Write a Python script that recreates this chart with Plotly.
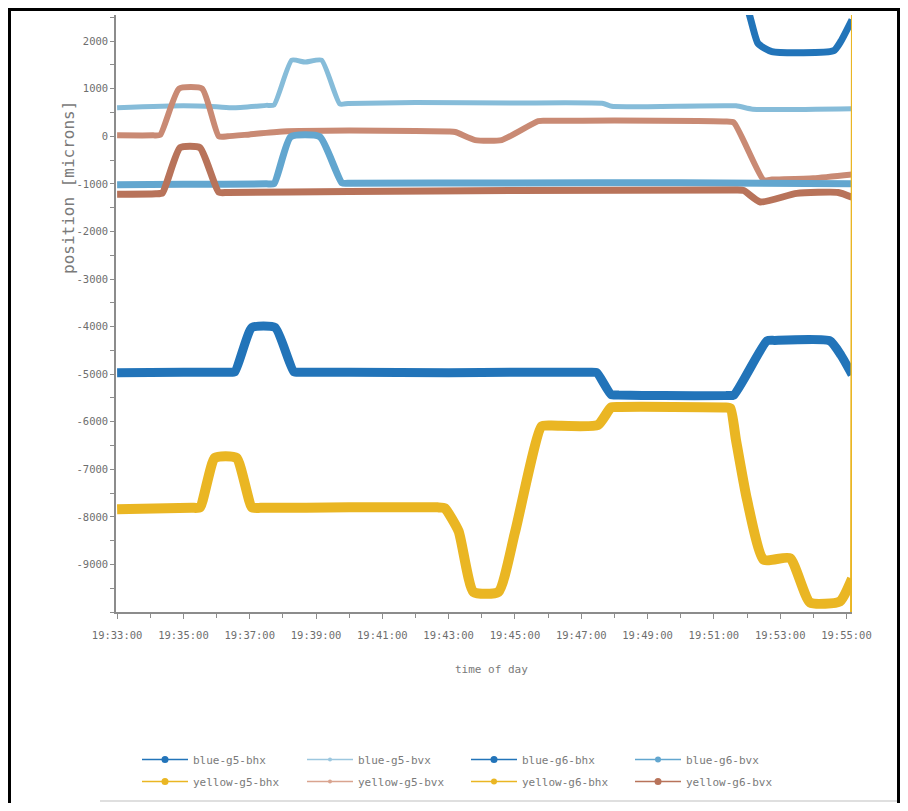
import plotly.graph_objects as go

DAY = "2000-01-01 "

# ---------------- data ----------------
t_b5h = ["19:33:00", "19:35:00", "19:36:20", "19:36:33", "19:37:04", "19:37:46", "19:38:20", "19:38:35",
         "19:40:00", "19:43:00", "19:45:00", "19:47:15", "19:47:28", "19:47:54", "19:48:08", "19:49:30",
         "19:51:22", "19:51:36", "19:52:36", "19:52:50", "19:54:30", "19:54:50", "19:55:10"]
v_b5h = [-4970, -4960, -4960, -4950, -4020, -4020, -4950, -4960,
         -4960, -4970, -4960, -4960, -4970, -5430, -5440, -5450,
         -5450, -5440, -4300, -4290, -4300, -4600, -5010]

t_b5v = ["19:33:00", "19:35:00", "19:36:00", "19:36:30", "19:37:30", "19:37:44", "19:38:16", "19:38:40",
         "19:39:10", "19:39:43", "19:39:58", "19:42:00", "19:45:00", "19:47:40", "19:47:55", "19:51:40",
         "19:52:10", "19:55:10"]
v_b5v = [600, 640, 620, 600, 650, 660, 1600, 1560,
         1600, 680, 690, 710, 700, 690, 630, 640,
         570, 580]

t_b6h = ["19:33:00", "19:51:40", "19:52:20", "19:52:45", "19:54:37", "19:54:50", "19:55:10"]
v_b6h = [3200, 3200, 1950, 1780, 1800, 2000, 2450]

t_b6v = ["19:33:00", "19:35:00", "19:37:30", "19:37:44", "19:38:14", "19:39:07", "19:39:47", "19:40:02",
         "19:45:00", "19:50:00", "19:55:10"]
v_b6v = [-1020, -1010, -1000, -995, -10, -10, -980, -985,
         -980, -975, -1000]

t_y5h = ["19:33:00", "19:35:15", "19:35:30", "19:35:57", "19:36:36", "19:37:04", "19:37:20", "19:40:00",
         "19:42:40", "19:42:53", "19:43:18", "19:43:45", "19:44:30", "19:45:00", "19:45:48", "19:46:05",
         "19:47:30", "19:47:54", "19:48:10", "19:51:20", "19:51:30", "19:51:40", "19:52:00", "19:52:30",
         "19:53:18", "19:53:54", "19:54:48", "19:55:10"]
v_y5h = [-7840, -7810, -7800, -6760, -6760, -7800, -7810, -7800,
         -7800, -7820, -8300, -9580, -9580, -8330, -6100, -6080,
         -6070, -5700, -5690, -5700, -5720, -6380, -7640, -8900,
         -8870, -9800, -9780, -9300]

t_y5v = ["19:33:00", "19:34:05", "19:34:18", "19:34:52", "19:35:34", "19:36:04", "19:36:20", "19:37:00",
         "19:38:00", "19:40:00", "19:42:00", "19:43:00", "19:43:12", "19:43:48", "19:44:36", "19:45:42",
         "19:46:00", "19:48:00", "19:51:20", "19:51:36", "19:52:30", "19:52:45", "19:54:00", "19:55:10"]
v_y5v = [20, 20, 30, 1000, 1000, 0, 0, 40,
         100, 120, 110, 100, 90, -80, -80, 320,
         325, 330, 310, 290, -920, -910, -880, -800]

t_y6h = ["19:33:00", "19:55:08", "19:55:10"]
v_y6h = [-12000, -12000, 3000]

t_y6v = ["19:33:00", "19:34:10", "19:34:22", "19:34:54", "19:35:30", "19:36:04", "19:36:20", "19:40:00",
         "19:45:00", "19:51:40", "19:51:54", "19:52:24", "19:53:30", "19:54:45", "19:55:10"]
v_y6v = [-1220, -1210, -1190, -240, -240, -1175, -1180, -1160,
         -1140, -1130, -1140, -1380, -1200, -1180, -1280]

names = ["blue-g5-bhx", "yellow-g5-bhx", "blue-g5-bvx", "yellow-g5-bvx",
         "blue-g6-bhx", "yellow-g6-bhx", "blue-g6-bvx", "yellow-g6-bvx"]

x_ticks = ["19:33:00", "19:35:00", "19:37:00", "19:39:00", "19:41:00", "19:43:00",
           "19:45:00", "19:47:00", "19:49:00", "19:51:00", "19:53:00", "19:55:00"]
y_ticks = [2000, 1000, 0, -1000, -2000, -3000, -4000, -5000, -6000, -7000, -8000, -9000]

# ---------------- styling ----------------
series = {
    "blue-g5-bhx": (t_b5h, v_b5h, "#2274b9", 9, "spline"),
    "blue-g5-bvx": (t_b5v, v_b5v, "#86bcd9", 5, "spline"),
    "blue-g6-bhx": (t_b6h, v_b6h, "#2274b9", 7, "spline"),
    "blue-g6-bvx": (t_b6v, v_b6v, "#62a6cf", 7, "spline"),
    "yellow-g5-bhx": (t_y5h, v_y5h, "#eab623", 10, "spline"),
    "yellow-g5-bvx": (t_y5v, v_y5v, "#c98a74", 6, "spline"),
    "yellow-g6-bhx": (t_y6h, v_y6h, "#eab623", 2, "linear"),
    "yellow-g6-bvx": (t_y6v, v_y6v, "#b8735a", 7, "spline"),
}
legend_style = {
    "blue-g5-bhx": ("#2274b9", 7), "yellow-g5-bhx": ("#eab623", 7),
    "blue-g5-bvx": ("#9cc7df", 4), "yellow-g5-bvx": ("#d9a48f", 4),
    "blue-g6-bhx": ("#2274b9", 7), "yellow-g6-bhx": ("#eab623", 6),
    "blue-g6-bvx": ("#62a6cf", 6), "yellow-g6-bvx": ("#b8735a", 7),
}
draw_order = ["blue-g6-bhx", "blue-g5-bvx", "yellow-g5-bvx", "blue-g6-bvx", "yellow-g6-bvx",
              "blue-g5-bhx", "yellow-g5-bhx", "yellow-g6-bhx"]

OFF = 8  # page body margin
W, H = 892, 795
L, T = 108, 7
R, B = 48, 191
pw, ph = W - L - R, H - T - B


def px(xs):  # screen x -> paper
    return (xs - OFF - L) / pw


def py(ys):  # screen y -> paper
    return (H - B - (ys - OFF)) / ph


fig = go.Figure()
for n in draw_order:
    t, v, c, w, shp = series[n]
    line = dict(color=c, width=w, shape=shp)
    if shp == "spline":
        line["smoothing"] = 0.5
    fig.add_trace(go.Scatter(x=[DAY + s for s in t], y=v, mode="lines", name=n,
                             line=line, showlegend=False))

legend_ids = ["legend", "legend2", "legend3", "legend4"]
for i, n in enumerate(names):
    c, ms = legend_style[n]
    fig.add_trace(go.Scatter(x=[None], y=[None], mode="lines+markers", name=n,
                             line=dict(color=c, width=1.5), marker=dict(color=c, size=ms),
                             legend=legend_ids[i // 2], legendgroup=n, showlegend=True))

font_mono = "DejaVu Sans Mono"
col_x = [137, 302, 466, 630]
leg_common = dict(orientation="v", xanchor="left", yanchor="top", y=py(745),
                  bgcolor="rgba(0,0,0,0)", tracegroupgap=3, itemwidth=46,
                  font=dict(family=font_mono, size=11, color="#7a7a7a"))
layout_leg = {}
for i, lid in enumerate(legend_ids):
    layout_leg[lid] = dict(x=px(col_x[i]), **leg_common)

axis_col = "#8c8c8c"
fig.update_layout(
    width=W, height=H,
    margin=dict(l=L, r=R, t=T, b=B),
    paper_bgcolor="white", plot_bgcolor="white",
    font=dict(family=font_mono, size=10.5, color="#6e6e6e"),
    xaxis=dict(type="date", range=[DAY + "19:32:58", DAY + "19:55:10"],
               tickvals=[DAY + s for s in x_ticks], ticktext=x_ticks,
               showgrid=False, zeroline=False, showline=True, linecolor=axis_col, linewidth=1.5,
               ticks="outside", ticklen=5, tickcolor=axis_col, ticklabelstandoff=8,
               minor=dict(dtick=60000, tick0=DAY + "19:33:00", ticks="outside", ticklen=4,
                          tickcolor=axis_col, showgrid=False)),
    yaxis=dict(range=[-10000, 2550], tickvals=y_ticks, ticktext=[str(v) for v in y_ticks],
               showgrid=False, zeroline=False, showline=True, linecolor=axis_col, linewidth=1.5,
               ticks="outside", ticklen=4, tickcolor=axis_col,
               minor=dict(dtick=500, tick0=0, ticks="outside", ticklen=4, tickcolor=axis_col,
                          showgrid=False)),
    annotations=[
        dict(text="position [microns]", x=px(68), y=py(188), xref="paper", yref="paper",
             xanchor="center", yanchor="middle",
             showarrow=False, textangle=-90, font=dict(family=font_mono, size=16, color="#7a7a7a")),
        dict(text="time of day", x=px(491), y=py(669), xref="paper", yref="paper",
             xanchor="center", yanchor="middle",
             showarrow=False, font=dict(family=font_mono, size=11, color="#7a7a7a")),
    ],
    shapes=[
        dict(type="line", xref="paper", yref="paper", x0=px(9.5), x1=px(9.5), y0=py(8), y1=py(803),
             line=dict(color="black", width=3)),
        dict(type="line", xref="paper", yref="paper", x0=px(8), x1=px(900), y0=py(9.5), y1=py(9.5),
             line=dict(color="black", width=3)),
        dict(type="line", xref="paper", yref="paper", x0=px(898.5), x1=px(898.5), y0=py(8), y1=py(803),
             line=dict(color="black", width=3)),
        dict(type="line", xref="paper", yref="paper", x0=px(100), x1=px(897), y0=py(801), y1=py(801),
             line=dict(color="#d4d4d4", width=1.5)),
    ],
    **layout_leg,
)

fig.write_html("out.html")
